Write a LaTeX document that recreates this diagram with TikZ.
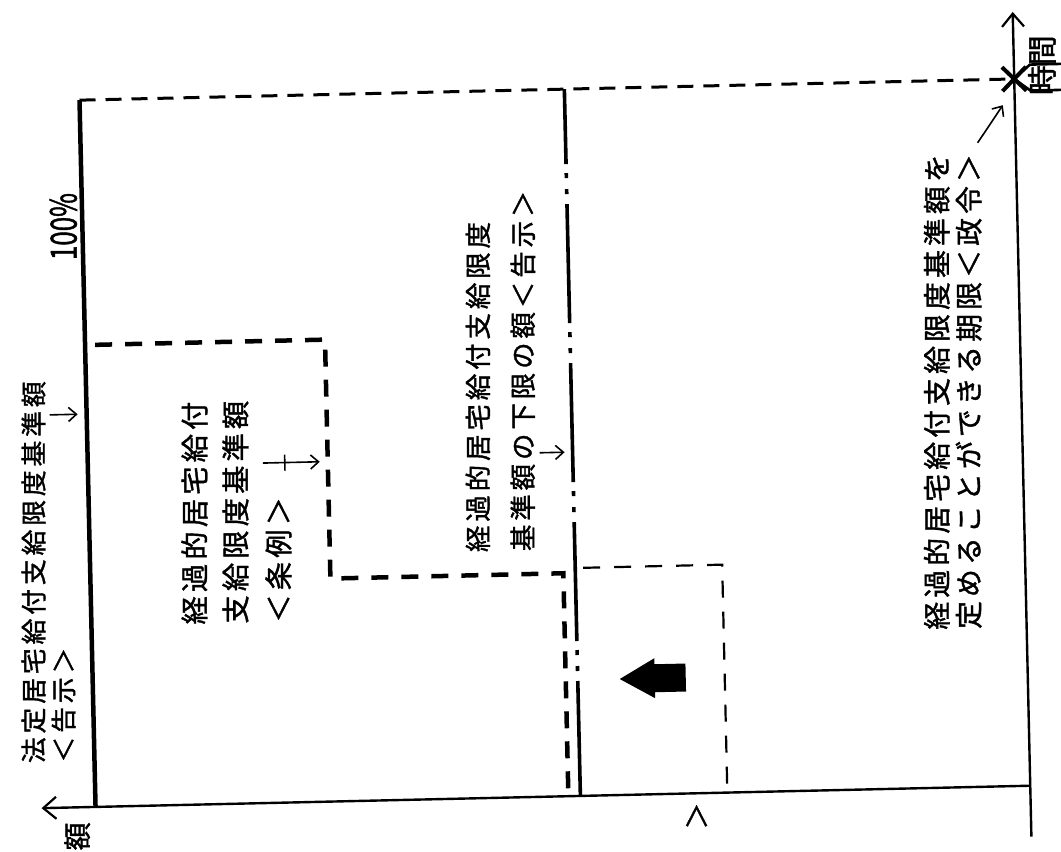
\documentclass[tikz,border=0pt]{standalone}
\usepackage{fontspec}
\newfontfamily\jp[LetterSpace=15,FakeBold=1.4]{Noto Sans CJK JP}
\newfontfamily\jpn[FakeBold=1.4]{Noto Sans CJK JP}
\usetikzlibrary{arrows.meta}
\begin{document}
\begin{tikzpicture}[x=1pt,y=-1pt,
  axisline/.style={line width=2.4pt,-{Straight Barb[length=13pt,width=22pt,line width=2.2pt]}},
  lawline/.style={line width=4.5pt},
  topdash/.style={line width=3pt,dash pattern=on 16pt off 10pt},
  ordline/.style={line width=4.5pt,dash pattern=on 17pt off 13pt,line join=miter},
  limline/.style={line width=3.6pt,dash pattern=on 119pt off 9pt on 5pt off 11pt on 5pt off 10pt,dash phase=44pt},
  nowline/.style={line width=2.2pt,dash pattern=on 17pt off 14pt},
  ptr/.style={line width=1.6pt,-{Straight Barb[length=8pt,width=14pt,line width=1.6pt]}},
  vtxt/.style={rotate=90,anchor=west,inner sep=0pt},
  vtxtend/.style={rotate=90,anchor=east,inner sep=0pt}]
\useasboundingbox (0,0) rectangle (1061,852);
\fill[white] (0,0) rectangle (1061,852);
\begin{scope}[rotate around={1.3:(530,426)}]
  % axes
  \coordinate (O) at (1022,797);
  \coordinate (Ytip) at (33,797);
  \coordinate (Xtip) at (1022,23);
  \coordinate (Xbot) at (1022,848);
  \draw[axisline] (O) -- (Ytip);
  \draw[axisline] (Xbot) -- (Xtip);
  \node[rotate=90,inner sep=0pt,font=\jpn\fontsize{28}{28}\selectfont] (ylab) at (68,826) {額};
  \node[rotate=90,inner sep=0pt,font=\jpn\fontsize{30}{30}\selectfont] (xlab) at (1050,77) {時間};
  % deadline mark
  \coordinate (D) at (1022,90);
  \draw[line width=4pt] ([shift={(-12,-12)}]D) -- ([shift={(12,12)}]D)
                        ([shift={(-12,12)}]D) -- ([shift={(12,-12)}]D);
  \draw[line width=2.6pt] (1072,76) -- (1038,76) -- (D) -- (1038,102) -- (1072,102);
  % statutory 100% line
  \coordinate (P0) at (87,797);
  \coordinate (P1) at (87,90);
  \draw[lawline] (P0) -- (P1);
  \draw[topdash] (P1) -- (D);
  \node[rotate=90,inner sep=0pt] (pct) at (68,216)
     {\scalebox{0.72}[1]{\jpn\fontsize{36}{36}\selectfont 100\%}};
  % lower limit (dash-dot-dot)
  \coordinate (L0) at (572,90);
  \coordinate (L1) at (572,797);
  \draw[limline] (L0) -- (L1);
  % ordinance step line
  \coordinate (S0) at (97,335);
  \coordinate (S1) at (327,335);
  \coordinate (S2) at (327,574);
  \coordinate (S3) at (560,574);
  \coordinate (S4) at (560,797);
  \draw[ordline] (S0) -- (S1) -- (S2) -- (S3) -- (S4);
  % current level box
  \coordinate (N0) at (580,569);
  \coordinate (N1) at (719,569);
  \coordinate (N2) at (719,797);
  \draw[nowline] (N0) -- (N1) -- (N2);
  % big arrow
  \fill (614,681) -- (649,661) -- (649,667) -- (680,667) -- (680,695) -- (649,695) -- (649,701) -- cycle;
  % labels
  \node[vtxt,font=\jp\fontsize{25.8}{25.8}\selectfont] (a1) at (26,752) {法定居宅給付支給限度基準額};
  \node[vtxt,font=\jp\fontsize{25.8}{25.8}\selectfont] (a2) at (56,752) {＜告示＞};
  \coordinate (a3) at (50,404);
  \coordinate (a4) at (78,404);
  \draw[ptr] (a3) -- (a4);
  \node[vtxt,font=\jp\fontsize{28.2}{28.2}\selectfont] (b1) at (190,617) {経過的居宅給付};
  \node[vtxt,font=\jp\fontsize{28.2}{28.2}\selectfont] (b2) at (231,617) {支給限度基準額};
  \node[vtxt,font=\jp\fontsize{28.2}{28.2}\selectfont] (b3) at (274,617) {＜条例＞};
  \coordinate (b4) at (262,457);
  \coordinate (b5) at (319,457);
  \draw[ptr] (b4) -- (b5);
  \draw[line width=1.6pt] (284,449) -- (284,465);
  \node[vtxt,font=\jp\fontsize{26.4}{26.4}\selectfont] (c1) at (475,551) {経過的居宅給付支給限度};
  \node[vtxt,font=\jp\fontsize{26.4}{26.4}\selectfont] (c2) at (520,551) {基準額の下限の額＜告示＞};
  \coordinate (c3) at (539,453);
  \coordinate (c4) at (564,453);
  \draw[ptr] (c3) -- (c4);
  \node[vtxt,font=\jp\fontsize{27.8}{27.8}\selectfont] (d1) at (932,639) {経過的居宅給付支給限度基準額を};
  \node[vtxt,font=\jp\fontsize{27.8}{27.8}\selectfont] (d2) at (964,639) {定めることができる期限＜政令＞};
  \coordinate (d3) at (984,153);
  \coordinate (d4) at (1010,116);
  \draw[ptr] (d3) -- (d4);
  \node[vtxtend,font=\jpn\fontsize{27}{27}\selectfont] (e2) at (688,806) {＞};
\end{scope}
\end{tikzpicture}
\end{document}
